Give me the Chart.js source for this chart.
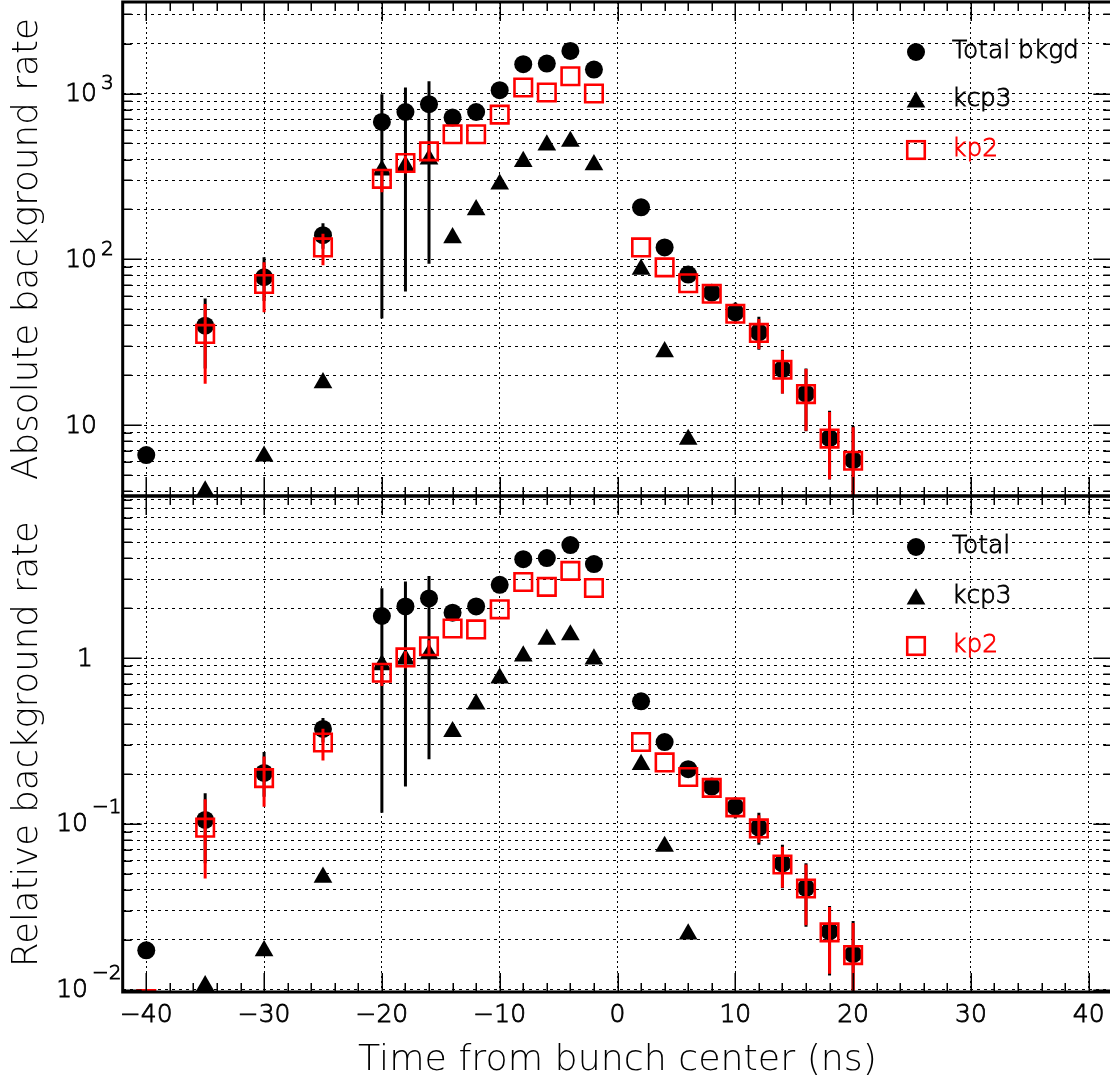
<!DOCTYPE html>
<html><head><meta charset="utf-8">
<script src="https://cdn.jsdelivr.net/npm/chart.js@4.4.0/dist/chart.umd.min.js"></script>
<style>
html,body{margin:0;padding:0;background:#fff;overflow:hidden;width:1110px;height:1078px;}
#wrap{position:relative;width:1110px;height:1078px;overflow:hidden;background:#fff;}
canvas{position:absolute;left:0;top:0;}
</style></head><body>
<div id="wrap"><canvas id="cTop" width="1120" height="1078"></canvas><canvas id="cBot" width="1120" height="1078"></canvas></div>
<script>
// ---------------- data ----------------
const timeTotal = [-40,-35,-30,-25,-20,-18,-16,-14,-12,-10,-8,-6,-4,-2,2,4,6,8,10,12,14,16,18,20];
const timeKcp3  = [-35,-30,-25,-20,-18,-16,-14,-12,-10,-8,-6,-4,-2,2,4,6];
const timeKp2   = [-40,-35,-30,-25,-20,-18,-16,-14,-12,-10,-8,-6,-4,-2,2,4,6,8,10,12,14,16,18,20];

// absolute background rate (top panel)
const absTotal   = [6.6,39.8,78,140,674,774,862,716,774,1047,1503,1517,1808,1396,206,118,81,63,47.9,36.3,21.8,15.5,8.35,6.15];
const absTotalHi = [null,58,103,165,990,1087,1187,null,null,null,null,null,null,null,null,null,null,null,55,45,28.5,22,12.2,9.9];
const absTotalLo = [null,22,56,116,44,64,94,null,null,null,null,null,null,null,null,null,null,null,41,28.5,15.5,9.2,4.7,3];
const absKcp3    = [4.0,6.5,18.0,345,366,403,135,199,284,389,489,514,372,87,27.7,8.2];
const absKp2     = [3.3,35.5,71,118,306,381,448,568,568,746,1087,1014,1272,1000,118,89.5,71.8,62,47,36,21.6,15.4,8.3,6.1];
const absKp2Hi   = [null,53.8,96,142.5,340,420,490,null,null,null,null,null,null,null,null,null,null,null,null,43.7,28.1,21.8,12.0,9.7];
const absKp2Lo   = [null,17.8,47.9,92,254,330,400,null,null,null,null,null,null,null,null,null,null,null,null,28.8,15.5,9.25,4.72,3.0];

// relative background rate (bottom panel)
const relTotal   = [0.0173,0.1057,0.203,0.374,1.795,2.05,2.29,1.88,2.05,2.77,3.95,4.01,4.81,3.69,0.549,0.312,0.214,0.168,0.127,0.095,0.0578,0.0412,0.0225,0.0164];
const relTotalHi = [null,0.153,0.272,0.436,2.64,2.90,3.13,null,null,null,null,null,null,null,null,null,null,null,0.145,0.117,0.075,0.058,0.032,0.026];
const relTotalLo = [null,0.058,0.146,0.31,0.117,0.168,0.246,null,null,null,null,null,null,null,null,null,null,null,0.108,0.075,0.041,0.024,0.0122,0.008];
const relKcp3    = [0.01057,0.01718,0.0477,0.911,0.986,1.06,0.36,0.529,0.757,1.03,1.30,1.38,0.986,0.228,0.0732,0.0217];
const relKp2     = [0.0088,0.095,0.189,0.310,0.816,1.01,1.18,1.51,1.49,1.97,2.88,2.69,3.36,2.65,0.312,0.235,0.192,0.165,0.126,0.094,0.057,0.0408,0.0222,0.0162];
const relKp2Hi   = [null,0.141,0.255,0.375,0.9,1.1,1.28,null,null,null,null,null,null,null,null,null,null,null,null,0.113,0.073,0.057,0.0316,0.0253];
const relKp2Lo   = [null,0.0469,0.127,0.241,0.68,0.87,1.05,null,null,null,null,null,null,null,null,null,null,null,null,0.077,0.0412,0.0245,0.0125,0.008];

// axes / ticks
const xMin = -42, xMax = 42;
const xMajorTicks = [-40,-30,-20,-10,0,10,20,30,40];
const xMinorTicks = [-42,-38,-36,-34,-32,-28,-26,-24,-22,-18,-16,-14,-12,-8,-6,-4,-2,2,4,6,8,12,14,16,18,22,24,26,28,32,34,36,38,42];
const topYMin = 3.74, topYMax = 3565;
const botYMin = 0.0097, botYMax = 9.5;
const topGrid = [4,5,6,7,8,9,10,20,30,40,50,60,70,80,90,100,200,300,400,500,600,700,800,900,1000,2000,3000];
const botGrid = [0.01,0.02,0.03,0.04,0.05,0.06,0.07,0.08,0.09,0.1,0.2,0.3,0.4,0.5,0.6,0.7,0.8,0.9,1,2,3,4,5,6,7,8,9];
const topDecades = [10,100,1000];
const botDecades = [0.01,0.1,1];
const topTickBase = ['10','10','10'];
const topTickSup  = ['','2','3'];
const botTickBase = ['10','10','1'];
const botTickSup  = ['\u22122','\u22121',''];
const legendTop = ['Total bkgd','kcp3','kp2'];
const legendBot = ['Total','kcp3','kp2'];
const titleTop = 'Absolute background rate';
const titleBot = 'Relative background rate';
const titleX = 'Time from bunch center (ns)';

// ---------------- style ----------------
const FAM = '"DejaVu Sans", "Open Sans", sans-serif';
const WT = '200';
const RED = '#ff0000';
function fit(text, target) {
  const c = document.createElement('canvas').getContext('2d');
  c.font = WT + ' 100px ' + FAM;
  return 100 * target / c.measureText(text).width;
}
const szYTop = fit(titleTop, 462);
const szYBot = fit(titleBot, 446);
const szX = fit(titleX, 519);
const szLeg = fit('Total bkgd', 127);

function pts(xs, ys) { return xs.map((t, i) => ({x: t, y: ys[i]})); }

function datasets(tot, totHi, totLo, kcp, kp, kpHi, kpLo) {
  return [
    {label: 'kp2', data: pts(timeKp2, kp), errHi: kpHi, errLo: kpLo, errColor: RED,
     pointStyle: 'rect', pointRadius: 12.4, backgroundColor: 'rgba(0,0,0,0)', borderColor: RED, borderWidth: 2.6},
    {label: 'kcp3', data: pts(timeKcp3, kcp), pointStyle: 'triangle', pointRadius: 10.8,
     backgroundColor: '#000', borderColor: '#000', borderWidth: 0},
    {label: 'Total', data: pts(timeTotal, tot), errHi: totHi, errLo: totLo, errColor: '#000',
     pointStyle: 'circle', pointRadius: 9, backgroundColor: '#000', borderColor: '#000', borderWidth: 0}
  ];
}

const errPlugin = {
  id: 'errbars',
  beforeDatasetDraw(chart, args) {
    const ds = chart.data.datasets[args.index];
    if (!ds.errHi) return;
    const {ctx, chartArea: a, scales: {x, y}} = chart;
    ctx.save();
    ctx.beginPath(); ctx.rect(a.left, a.top, a.right - a.left, a.bottom - a.top); ctx.clip();
    ctx.strokeStyle = ds.errColor; ctx.lineWidth = 3;
    ds.data.forEach((p, i) => {
      const hi = ds.errHi[i], lo = ds.errLo[i];
      if (hi == null || lo == null) return;
      const px = x.getPixelForValue(p.x);
      ctx.beginPath();
      ctx.moveTo(px, y.getPixelForValue(hi));
      ctx.lineTo(px, y.getPixelForValue(lo));
      ctx.stroke();
    });
    ctx.restore();
  }
};

function marker(ctx, kind, x, y) {
  ctx.save();
  if (kind === 0) { ctx.fillStyle = '#000'; ctx.beginPath(); ctx.arc(x, y, 9, 0, Math.PI * 2); ctx.fill(); }
  else if (kind === 1) {
    const r = 10.8; ctx.fillStyle = '#000'; ctx.beginPath();
    ctx.moveTo(x, y - r); ctx.lineTo(x + r * 0.866, y + r / 2); ctx.lineTo(x - r * 0.866, y + r / 2); ctx.closePath(); ctx.fill();
  } else { ctx.strokeStyle = RED; ctx.lineWidth = 2.6; ctx.strokeRect(x - 8.77, y - 8.77, 17.54, 17.54); }
  ctx.restore();
}

function txt(ctx, s, x, y, color) {
  ctx.fillStyle = color; ctx.strokeStyle = color; ctx.lineWidth = 0.8;
  ctx.fillText(s, x, y); ctx.strokeText(s, x, y);
}

const framePlugin = {
  id: 'frame',
  afterDraw(chart, args, o) {
    const {ctx, chartArea: a, scales: {x, y}} = chart;
    ctx.save();
    // inward tick marks
    ctx.strokeStyle = '#000'; ctx.lineWidth = 1.5; ctx.beginPath();
    const vx = (vals, len) => vals.forEach(v => {
      const px = Math.round(x.getPixelForValue(v)) + 0.25;
      ctx.moveTo(px, a.bottom); ctx.lineTo(px, a.bottom - len);
      ctx.moveTo(px, a.top); ctx.lineTo(px, a.top + len);
    });
    const vy = (vals, len) => vals.forEach(v => {
      const py = Math.round(y.getPixelForValue(v)) + 0.25;
      ctx.moveTo(a.left, py); ctx.lineTo(a.left + len, py);
      ctx.moveTo(a.right, py); ctx.lineTo(a.right - len, py);
    });
    vx(xMinorTicks, 9); vx(xMajorTicks, 19);
    vy(o.grid.filter(v => !o.decades.includes(v)), 9); vy(o.decades, 19);
    ctx.stroke();
    // frame
    ctx.lineWidth = 3;
    ctx.strokeRect(a.left, a.top, a.right - a.left, a.bottom - a.top);
    // y tick labels (base + superscript)
    ctx.textBaseline = 'middle';
    o.decades.forEach((v, i) => {
      const py = y.getPixelForValue(v);
      const sup = o.sup[i];
      ctx.font = WT + ' 25px ' + FAM; ctx.textAlign = 'right';
      txt(ctx, o.base[i], sup ? o.rightSup : o.rightPlain, py + 1, '#000');
      if (sup) {
        ctx.font = WT + ' 20px ' + FAM; ctx.textAlign = 'left';
        txt(ctx, sup, o.rightSup + 4, py + o.supDy, '#000');
      }
    });
    // legend
    ctx.textAlign = 'left';
    ctx.font = WT + ' ' + szLeg + 'px ' + FAM;
    o.legend.forEach((t, i) => {
      const ly = o.legendY[i];
      marker(ctx, i, 916, ly + (i === 1 ? 2 : 0));
      txt(ctx, t, 952, ly, i === 2 ? RED : '#000');
    });
    ctx.restore();
  }
};

function makeChart(id, cfg) {
  const isBottom = cfg.bottom;
  return new Chart(document.getElementById(id), {
    type: 'scatter',
    data: {datasets: cfg.datasets},
    plugins: [errPlugin, framePlugin],
    options: {
      responsive: false, animation: false, events: [],
      layout: {autoPadding: false, padding: {left: 0, right: 7.7, top: cfg.padTop, bottom: cfg.padBottom}},
      plugins: {
        legend: {display: false}, tooltip: {enabled: false},
        frame: cfg.frame
      },
      scales: {
        x: {
          type: 'linear', min: xMin, max: xMax, bounds: 'data',
          afterBuildTicks: s => { s.ticks = xMajorTicks.map(v => ({value: v})); },
          afterFit: s => { s.height = isBottom ? 86 : 0; },
          grid: {display: true, drawTicks: false, color: '#000', lineWidth: 1},
          border: {display: false, dash: [2, 3]},
          ticks: {display: isBottom, autoSkip: false, maxRotation: 0, padding: 8, color: '#000',
                  textStrokeColor: '#000', textStrokeWidth: 0.8,
                  font: {family: FAM, size: 25, weight: WT},
                  callback: v => (v < 0 ? '\u2212' + Math.abs(v) : String(v))},
          title: {display: isBottom, text: titleX, color: '#000',
                  font: {family: FAM, size: szX, weight: WT}, padding: {top: 0, bottom: 17.5 - szX * 0.6}}
        },
        y: {
          type: 'logarithmic', min: cfg.yMin, max: cfg.yMax, bounds: 'data',
          afterBuildTicks: s => { s.ticks = cfg.frame.grid.map(v => ({value: v})); },
          afterFit: s => { s.width = 122.7; },
          grid: {display: true, drawTicks: false, color: '#000', lineWidth: 1},
          border: {display: false, dash: [3, 4]},
          ticks: {display: false},
          title: {display: true, text: cfg.title, color: '#000',
                  font: {family: FAM, size: cfg.titleSize, weight: WT}, padding: {top: 28 - cfg.titleSize * 0.6, bottom: 0}}
        }
      }
    }
  });
}

makeChart('cTop', {
  bottom: false, padTop: 2, padBottom: 1078 - 496,
  yMin: topYMin, yMax: topYMax, title: titleTop, titleSize: szYTop,
  datasets: datasets(absTotal, absTotalHi, absTotalLo, absKcp3, absKp2, absKp2Hi, absKp2Lo),
  frame: {grid: topGrid, decades: topDecades, base: topTickBase, sup: topTickSup,
          rightPlain: 97, rightSup: 97, supDy: -10, legend: legendTop, legendY: [52, 100, 150]}
});
makeChart('cBot', {
  bottom: true, padTop: 496, padBottom: 0,
  yMin: botYMin, yMax: botYMax, title: titleBot, titleSize: szYBot,
  datasets: datasets(relTotal, relTotalHi, relTotalLo, relKcp3, relKp2, relKp2Hi, relKp2Lo),
  frame: {grid: botGrid, decades: botDecades, base: botTickBase, sup: botTickSup,
          rightPlain: 93, rightSup: 88, supDy: -16, legend: legendBot, legendY: [547, 597, 646]}
});
</script>
</body></html>
